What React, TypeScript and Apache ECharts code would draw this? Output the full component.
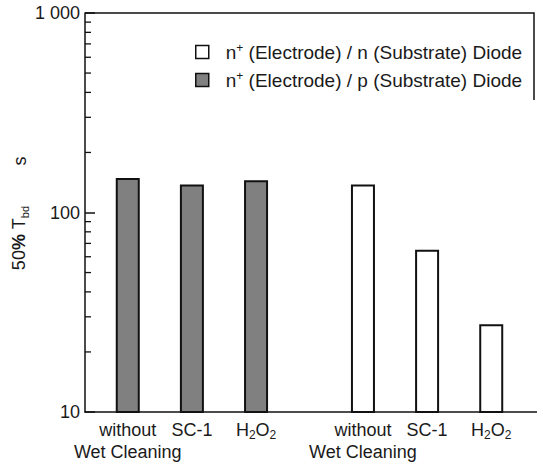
import React, { useEffect, useRef } from "react";
import * as echarts from "echarts";

// ---- data ----
const categories = ["without\nWet Cleaning", "SC-1", "H2O2"];
const seriesNames = [
  "n+ (Electrode) / n (Substrate) Diode",
  "n+ (Electrode) / p (Substrate) Diode",
];
const nSubstrateValues = [138, 65, 27.5]; // white bars (right group)
const pSubstrateValues = [149, 138, 145]; // gray bars (left group)
const yTickLabels: Record<number, string> = { 10: "10", 100: "100", 1000: "1 000" };
const minorTickValues = [20, 30, 40, 50, 60, 70, 80, 90, 200, 300, 400, 500, 600, 700, 800, 900];

// ---- layout (x positions on a value axis) ----
const GROUP_START = [2, 13]; // p group (gray) first, n group (white) second
const CAT_STEP = 3;
const X_MIN = 0;
const X_MAX = 21.14;
const FRAME_X = 21;

const FONT = "'Liberation Sans', Arial, sans-serif";
const FS = 18;
const LFS = 19;
const INK = "#1a1a1a";

function posOf(group: number, cat: number) {
  return GROUP_START[group] + cat * CAT_STEP;
}

function richLabel(s: string) {
  return s.replace(/([A-Z])(\d)/g, "$1{sub|$2}");
}

function legendLabel(s: string) {
  return "{gap| }" + s.replace(/n\+/g, "n{sup|+}");
}

export default function App() {
  const ref = useRef<HTMLDivElement>(null);

  useEffect(() => {
    if (!ref.current) return;
    const chart = echarts.init(ref.current, undefined, { renderer: "svg" });

    const labelMap: Record<number, string> = {};
    categories.forEach((c, i) => {
      labelMap[posOf(0, i)] = c;
      labelMap[posOf(1, i)] = c;
    });

    const grayData = pSubstrateValues.map((v, i) => [posOf(0, i), v]);
    const whiteData = nSubstrateValues.map((v, i) => [posOf(1, i), v]);

    chart.setOption({
      animation: false,
      textStyle: { fontFamily: FONT },
      grid: { left: 85, right: 0, top: 13, bottom: 52, show: false },
      legend: {
        orient: "vertical",
        left: 190,
        top: 37,
        itemWidth: 13,
        itemHeight: 13,
        itemGap: 8,
        icon: "rect",
        data: [seriesNames[0], seriesNames[1]],
        formatter: (name: string) => legendLabel(name),
        textStyle: {
          fontSize: LFS,
          color: INK,
          fontFamily: FONT,
          lineHeight: 20,
          rich: {
            gap: { width: 12, fontSize: LFS, lineHeight: 20 },
            sup: { fontSize: 12, lineHeight: 11, verticalAlign: "top", color: INK, fontFamily: FONT },
          },
        },
        itemStyle: { borderWidth: 1.5, borderColor: "#111" },
      },
      xAxis: {
        type: "value",
        min: X_MIN,
        max: X_MAX,
        interval: 1,
        splitLine: { show: false },
        axisLine: { show: true, onZero: false, lineStyle: { color: "#111", width: 1.5 } },
        axisTick: { show: false },
        axisLabel: {
          show: true,
          showMinLabel: true,
          showMaxLabel: false,
          margin: 7,
          fontSize: FS,
          lineHeight: 22,
          color: INK,
          fontFamily: FONT,
          formatter: (v: number) => (labelMap[v] ? richLabel(labelMap[v]) : ""),
          rich: {
            sub: { fontSize: 12, lineHeight: 13, verticalAlign: "bottom", color: INK, fontFamily: FONT },
          },
        },
      },
      yAxis: {
        type: "log",
        logBase: 10,
        min: 10,
        max: 1000,
        splitLine: { show: false },
        axisLine: { show: true, lineStyle: { color: "#111", width: 1.5 } },
        axisTick: { show: true, inside: true, length: 10, lineStyle: { color: "#111", width: 1.5 } },
        axisLabel: {
          fontSize: FS,
          color: INK,
          fontFamily: FONT,
          margin: 5,
          formatter: (v: number) => yTickLabels[Math.round(v)] ?? "",
        },
      },
      series: [
        {
          name: seriesNames[0],
          type: "bar",
          barWidth: 24,
          data: whiteData,
          itemStyle: { color: "#ffffff", borderColor: "#111", borderWidth: 2 },
        },
        {
          name: seriesNames[1],
          type: "bar",
          barWidth: 24,
          barGap: "-100%",
          data: grayData,
          itemStyle: { color: "#808080", borderColor: "#111", borderWidth: 2 },
        },
      ],
    });

    // minor log ticks, frame and y-axis title positioned through the axis scales
    const xLeft = chart.convertToPixel({ xAxisIndex: 0 }, X_MIN) as number;
    const xFrame = chart.convertToPixel({ xAxisIndex: 0 }, FRAME_X) as number;
    const yTop = chart.convertToPixel({ yAxisIndex: 0 }, 1000) as number;
    const graphics: any[] = minorTickValues.map((v) => {
      const y = chart.convertToPixel({ yAxisIndex: 0 }, v) as number;
      return {
        type: "line",
        shape: { x1: xLeft, y1: y, x2: xLeft + 6, y2: y },
        style: { stroke: "#111", lineWidth: 1.3 },
        silent: true,
      };
    });
    graphics.push({
      type: "polyline",
      shape: { points: [[xLeft, yTop], [xFrame, yTop], [xFrame, 100]] },
      style: { stroke: "#111", lineWidth: 1.5, fill: null },
      silent: true,
    });
    graphics.push({
      type: "text",
      x: 19,
      y: 238,
      rotation: Math.PI / 2,
      style: {
        text: "50{b|%} T{sub|bd}",
        fontSize: FS,
        fontFamily: FONT,
        fill: INK,
        align: "center",
        verticalAlign: "middle",
        lineHeight: 22,
        rich: {
          b: { fontSize: FS, fontWeight: "bold", fontFamily: FONT, fill: INK, lineHeight: 22 },
          sub: { fontSize: 11, fontFamily: FONT, fill: INK, verticalAlign: "bottom", lineHeight: 13 },
        },
      },
      silent: true,
    });
    graphics.push({
      type: "text",
      x: 20,
      y: 161,
      rotation: Math.PI / 2,
      style: {
        text: "s",
        fontSize: FS,
        fontFamily: FONT,
        fill: INK,
        align: "center",
        verticalAlign: "middle",
      },
      silent: true,
    });
    chart.setOption({ graphic: graphics });

    return () => chart.dispose();
  }, []);

  return <div ref={ref} style={{ width: 537, height: 464, position: "absolute", left: 0, top: 0 }} />;
}
